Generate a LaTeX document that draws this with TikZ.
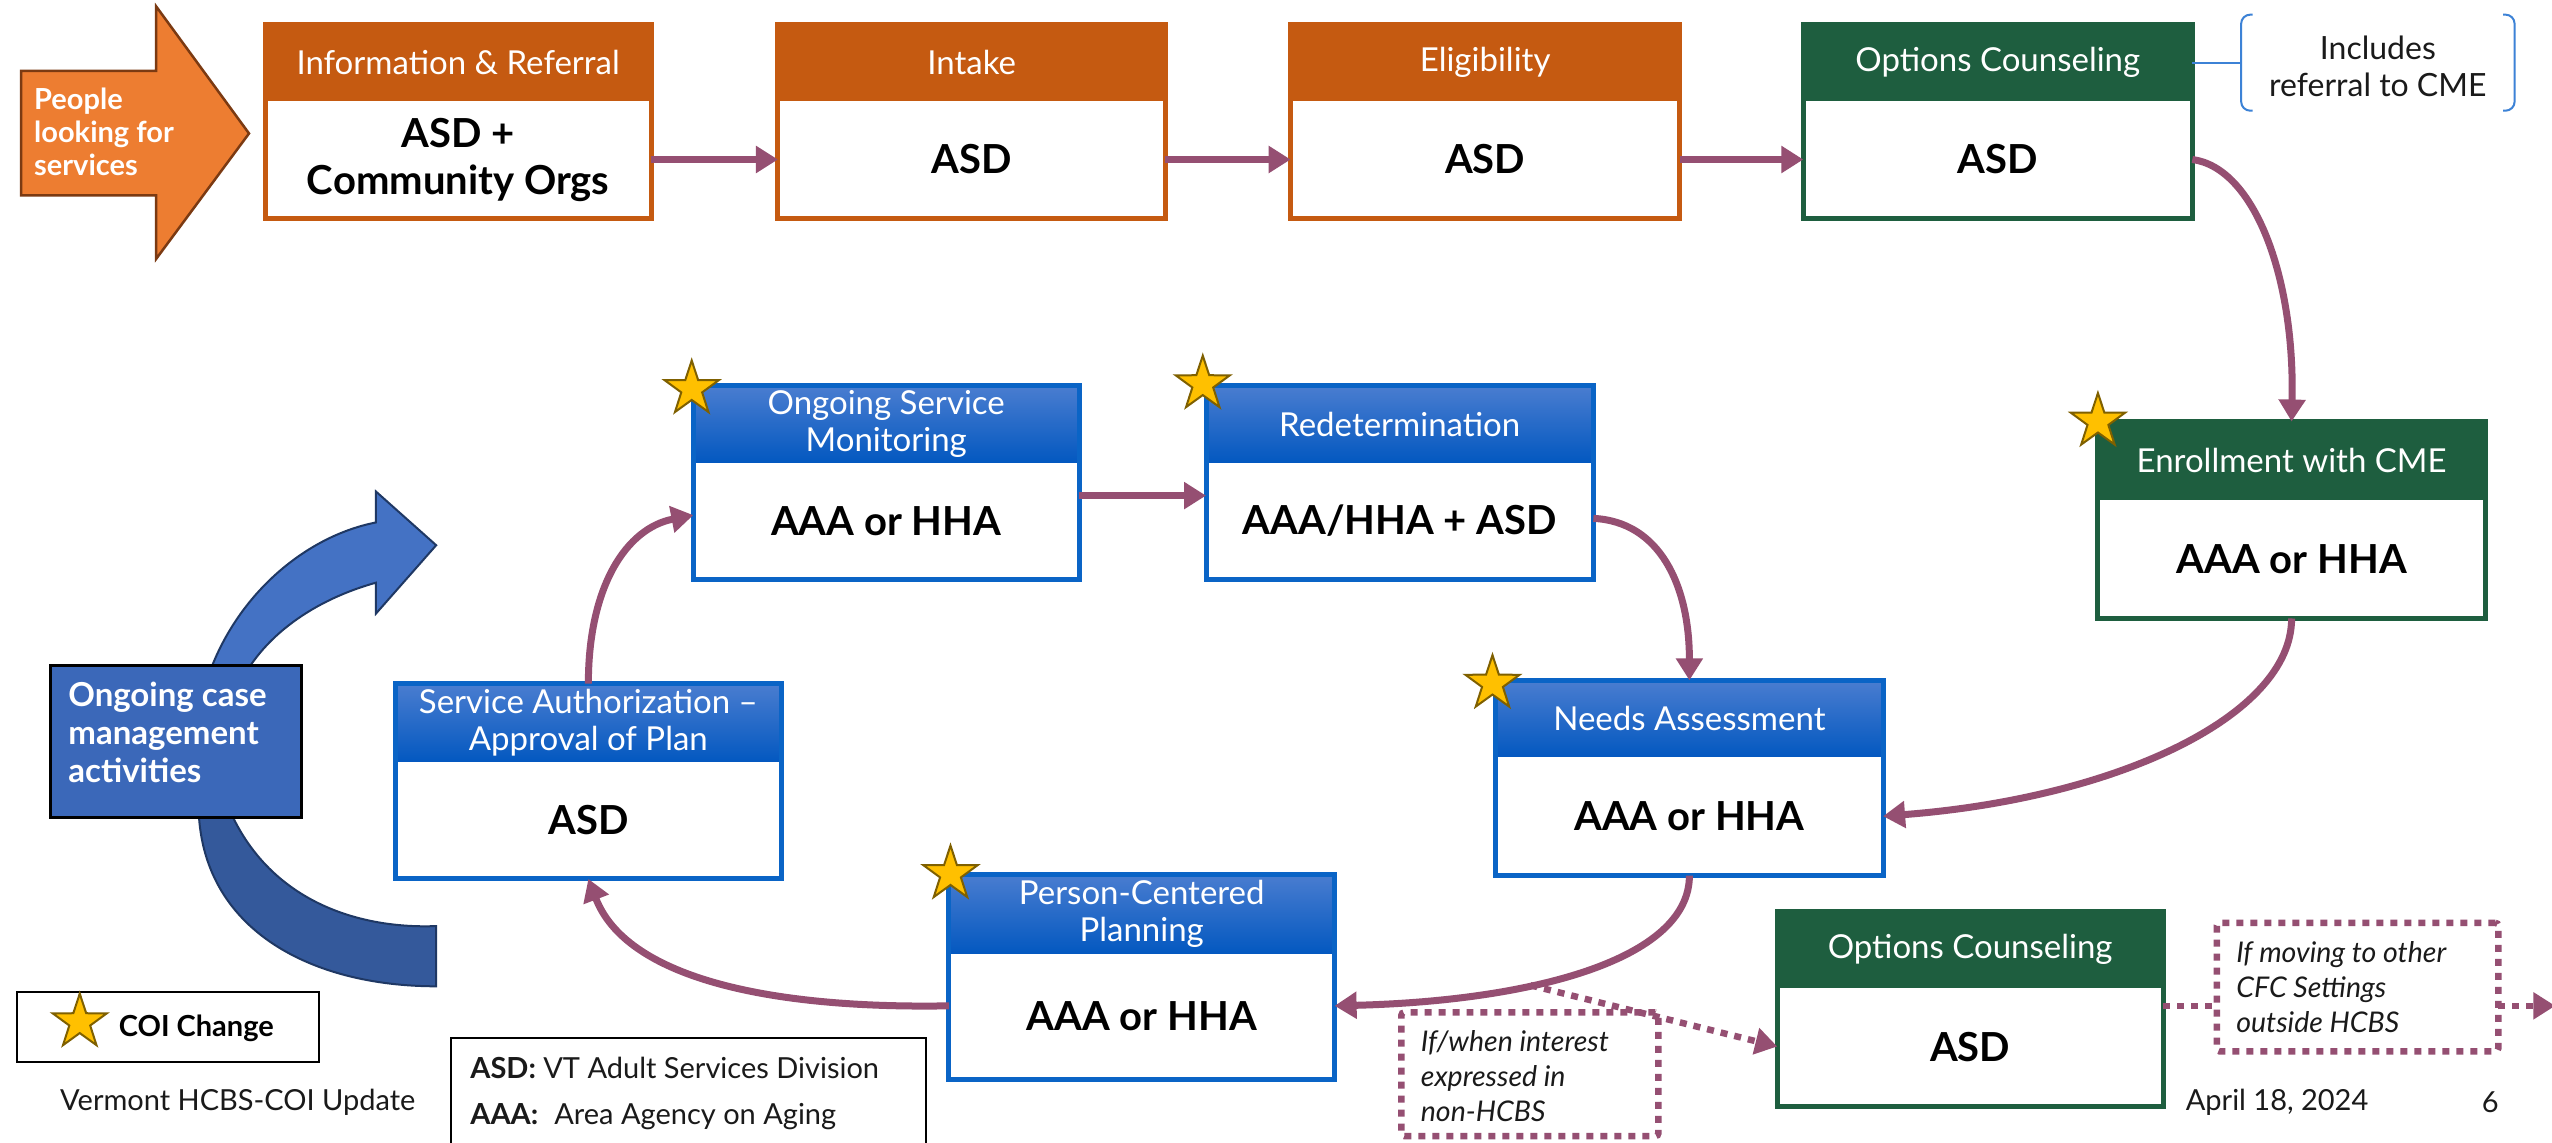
\documentclass[tikz,border=0pt]{standalone}
\usepackage{fontspec}
\setmainfont{Lato}
\usetikzlibrary{arrows.meta,shapes.geometric,fit,calc}
\definecolor{corange}{HTML}{C55A11}
\definecolor{cgreen}{HTML}{1E5E3F}
\definecolor{bhtop}{HTML}{4A7DD0}
\definecolor{bhbot}{HTML}{0358C0}
\definecolor{bedge}{HTML}{0A64C6}
\definecolor{plum}{HTML}{954F72}
\definecolor{starfill}{HTML}{FFC000}
\definecolor{staredge}{HTML}{7F6000}
\definecolor{arrorange}{HTML}{ED7D31}
\definecolor{arredge}{HTML}{7B3A12}
\definecolor{cyctop}{HTML}{4472C4}
\definecolor{cycbot}{HTML}{34599B}
\definecolor{cycedge}{HTML}{1F3864}
\definecolor{casefill}{HTML}{3B68B9}
\definecolor{brkblue}{HTML}{3C82D6}
\definecolor{txtdark}{HTML}{1A1A1A}

\newcommand\hdfont{\fontsize{33}{37}\selectfont}
\newcommand\bdfont{\fontsize{40}{47}\selectfont\bfseries}

\tikzset{
  every node/.style={inner sep=0pt, outer sep=0pt},
  head-or/.style={fill=corange}, head-gr/.style={fill=cgreen}, head-bl/.style={top color=bhtop, bottom color=bhbot},
  edge-or/.style={draw=corange}, edge-gr/.style={draw=cgreen}, edge-bl/.style={draw=bedge},
  headtxt/.style={text=white, font=\hdfont, align=center},
  bodytxt/.style={text=black, font=\bdfont, align=center},
  boxedge/.style={line width=5pt},
  conn/.style={draw=plum, line width=7pt, -{Triangle[length=22pt,width=26pt]}},
  dotconn/.style={draw=plum, line width=6.5pt, dash pattern=on 7pt off 7pt, -{Triangle[length=22pt,width=26pt]}},
  coistar/.style={star, star points=5, star point ratio=2.6, minimum size=57pt, fill=starfill, draw=staredge, line width=2pt},
  noteframe/.style={draw=plum, line width=6.5pt, dash pattern=on 7pt off 7pt, rounded corners=3pt},
  notetxt/.style={text=txtdark, font=\fontsize{28.5}{35}\selectfont\itshape, align=left},
  plaintxt/.style={text=txtdark, font=\fontsize{29}{34}\selectfont},
}

\newcommand\flowbox[9]{%
  \node[fill=white, fit={(#2,#3)(#4,#5)}] (#1) {};
  \node[head-#7, fit={(#2,#3)(#4,#6)}] (#1h) {};
  \node[fit={(#2,#6)(#4,#5)}] (#1b) {};
  \node[headtxt] (#1ht) at (#1h.center) {#8};
  \node[bodytxt] (#1bt) at (#1b.center) {#9};
  \draw[boxedge, edge-#7] (#1.north west) rectangle (#1.south east);
}

\begin{document}
\begin{tikzpicture}[x=1.6276pt, y=-1.6276pt]
\useasboundingbox (0,0) rectangle (1568,702);
\fill[white] (0,0) rectangle (1568,702);

% cycle arrow
\filldraw[fill=cyctop, draw=cycedge, line width=2pt] (125,425) .. controls (140,370) and (185,330) .. (231,321) -- (231,302) -- (268,335) -- (231,377) -- (231,358) .. controls (195,368) and (160,390) .. (145,425) -- cycle;
\filldraw[fill=cycbot, draw=cycedge, line width=2pt] (122,490) .. controls (120,570) and (190,606) .. (268,606) -- (268,569) .. controls (215,571) and (160,550) .. (138,490) -- cycle;
\node[fill=casefill, draw=black, line width=3pt, fit={(31,409)(185,502)}] (casebox) {};
\node[anchor=west, text=white, font=\fontsize{33}{38}\selectfont\bfseries, align=left] (casetxt) at (42,450) {Ongoing case\\management\\activities};

% people arrow
\filldraw[fill=arrorange, draw=arredge, line width=2.5pt] (13,43.5) -- (96,43.5) -- (96,4) -- (153,82) -- (96,159) -- (96,120) -- (13,120) -- cycle;
\node[anchor=west, text=white, font=\fontsize{29}{33}\selectfont\bfseries, align=left] (people) at (21,81) {People\\looking for\\services};

% boxes
\flowbox{ir}{163}{15}{400}{134}{62}{or}{Information \& Referral}{ASD +\\Community Orgs}
\flowbox{intake}{478}{15}{716}{134}{62}{or}{Intake}{ASD}
\flowbox{elig}{793}{15}{1032}{134}{62}{or}{Eligibility}{ASD}
\flowbox{oc}{1108}{15}{1347}{134}{62}{gr}{Options Counseling}{ASD}
\flowbox{enr}{1289}{259}{1527}{380}{307}{gr}{Enrollment with CME}{AAA or HHA}
\flowbox{osm}{426}{237}{663}{356}{284}{bl}{Ongoing Service\\Monitoring}{AAA or HHA}
\flowbox{redet}{741}{237}{979}{356}{284}{bl}{Redetermination}{AAA/HHA + ASD}
\flowbox{na}{919}{418}{1157}{538}{465}{bl}{Needs Assessment}{AAA or HHA}
\flowbox{sa}{243}{420}{480}{540}{468}{bl}{Service Authorization --\\Approval of Plan}{ASD}
\flowbox{pcp}{583}{537}{820}{663}{586}{bl}{Person-Centered\\Planning}{AAA or HHA}
\flowbox{oc2}{1092}{560}{1329}{680}{607}{gr}{Options Counseling}{ASD}

% bracket note
\node[fit={(1377,9)(1545,68)}] (brk) {};
\node[font=\fontsize{32}{37}\selectfont, text=txtdark, align=center] (brktxt) at ($(brk.center)+(0,2)$) {Includes\\referral to CME};
\draw[brkblue, line width=2pt, rounded corners=9pt] ($(brk.north west)+(7,0)$) -- (brk.north west) -- (brk.south west) -- ($(brk.south west)+(7,0)$);
\draw[brkblue, line width=2pt, rounded corners=9pt] ($(brk.north east)+(-7,0)$) -- (brk.north east) -- (brk.south east) -- ($(brk.south east)+(-7,0)$);
\draw[brkblue, line width=2pt] (och.east) -- (brk.west);

% connectors
\draw[conn] (irb -| ir.east) -- (intakeb -| intake.west);
\draw[conn] (intakeb -| intake.east) -- (eligb -| elig.west);
\draw[conn] (eligb -| elig.east) -- (ocb -| oc.west);
\draw[conn] (ocb -| oc.east) .. controls +(38,5) and +(2,-89) .. (enr.north);
\draw[conn] (enr.south) .. controls +(0,60) and +(143,-11) .. (nab -| na.east);
\draw[conn] ($(redet.east)+(0,22)$) .. controls +(41,2) and +(0,-58) .. (na.north);
\draw[conn] ($(osm.east)+(0,8)$) -- ($(redet.west)+(0,8)$);
\draw[conn] (sa.north) .. controls +(0,-60) and +(-41,8) .. ($(osm.west)+(0,20)$);
\draw[conn] (na.south) .. controls +(0,52) and +(120,-3) .. ($(pcp.east)+(0,18)$) coordinate[pos=0.63] (split);
\draw[conn] ($(pcp.west)+(0,18)$) .. controls +(-113,2) and +(23,60) .. (sa.south);

% notes
\node[noteframe, fit={(861,622)(1019,698)}] (note1) {};
\node[notetxt, anchor=west] (note1txt) at ($(note1.west)+(12,1)$) {If/when interest\\expressed in\\non-HCBS};
\node[noteframe, fit={(1362,567)(1535,646)}] (note2) {};
\node[notetxt, anchor=west] (note2txt) at ($(note2.west)+(12,0)$) {If moving to other\\CFC Settings\\outside HCBS};
\draw[dotconn] (split) -- ($(oc2.west)+(0,23)$);
\coordinate (ocout) at ($(oc2.east)+(0,-2)$);
\coordinate (exitpt) at (1570,618);
\draw[dotconn, -] (ocout) -- (ocout -| note2.west);
\draw[dotconn] (ocout -| note2.east) -- (exitpt);

% stars
\node[coistar] (osmstar) at (425,239) {};
\node[coistar] (redetstar) at (739,236) {};
\node[coistar] (enrstar) at (1289,259) {};
\node[coistar] (nastar) at (917,420) {};
\node[coistar] (pcpstar) at (584,537) {};

% legends
\node[draw=black, line width=2pt, fit={(10.6,609.6)(196,652.5)}] (coibox) {};
\node[coistar] (legstar) at (49,628) {};
\node[anchor=west, font=\fontsize{29}{34}\selectfont\bfseries] (coitxt) at (73,632) {COI Change};
\node[draw=black, line width=2pt, fit={(277,638)(569,715)}] (abbrbox) {};
\node[anchor=west, plaintxt] (asdtxt) at (289,656) {\textbf{ASD:} VT Adult Services Division};
\node[anchor=west, plaintxt] (aaatxt) at (289,686) {\textbf{AAA:}\hspace{0.3em} Area Agency on Aging};

% footer
\node[anchor=west, plaintxt] (foot1) at (37,677) {Vermont HCBS-COI Update};
\node[anchor=west, plaintxt] (foot2) at (1343,677) {April 18, 2024};
\node[plaintxt] (foot3) at (1530,677) {6};
\end{tikzpicture}
\end{document}
